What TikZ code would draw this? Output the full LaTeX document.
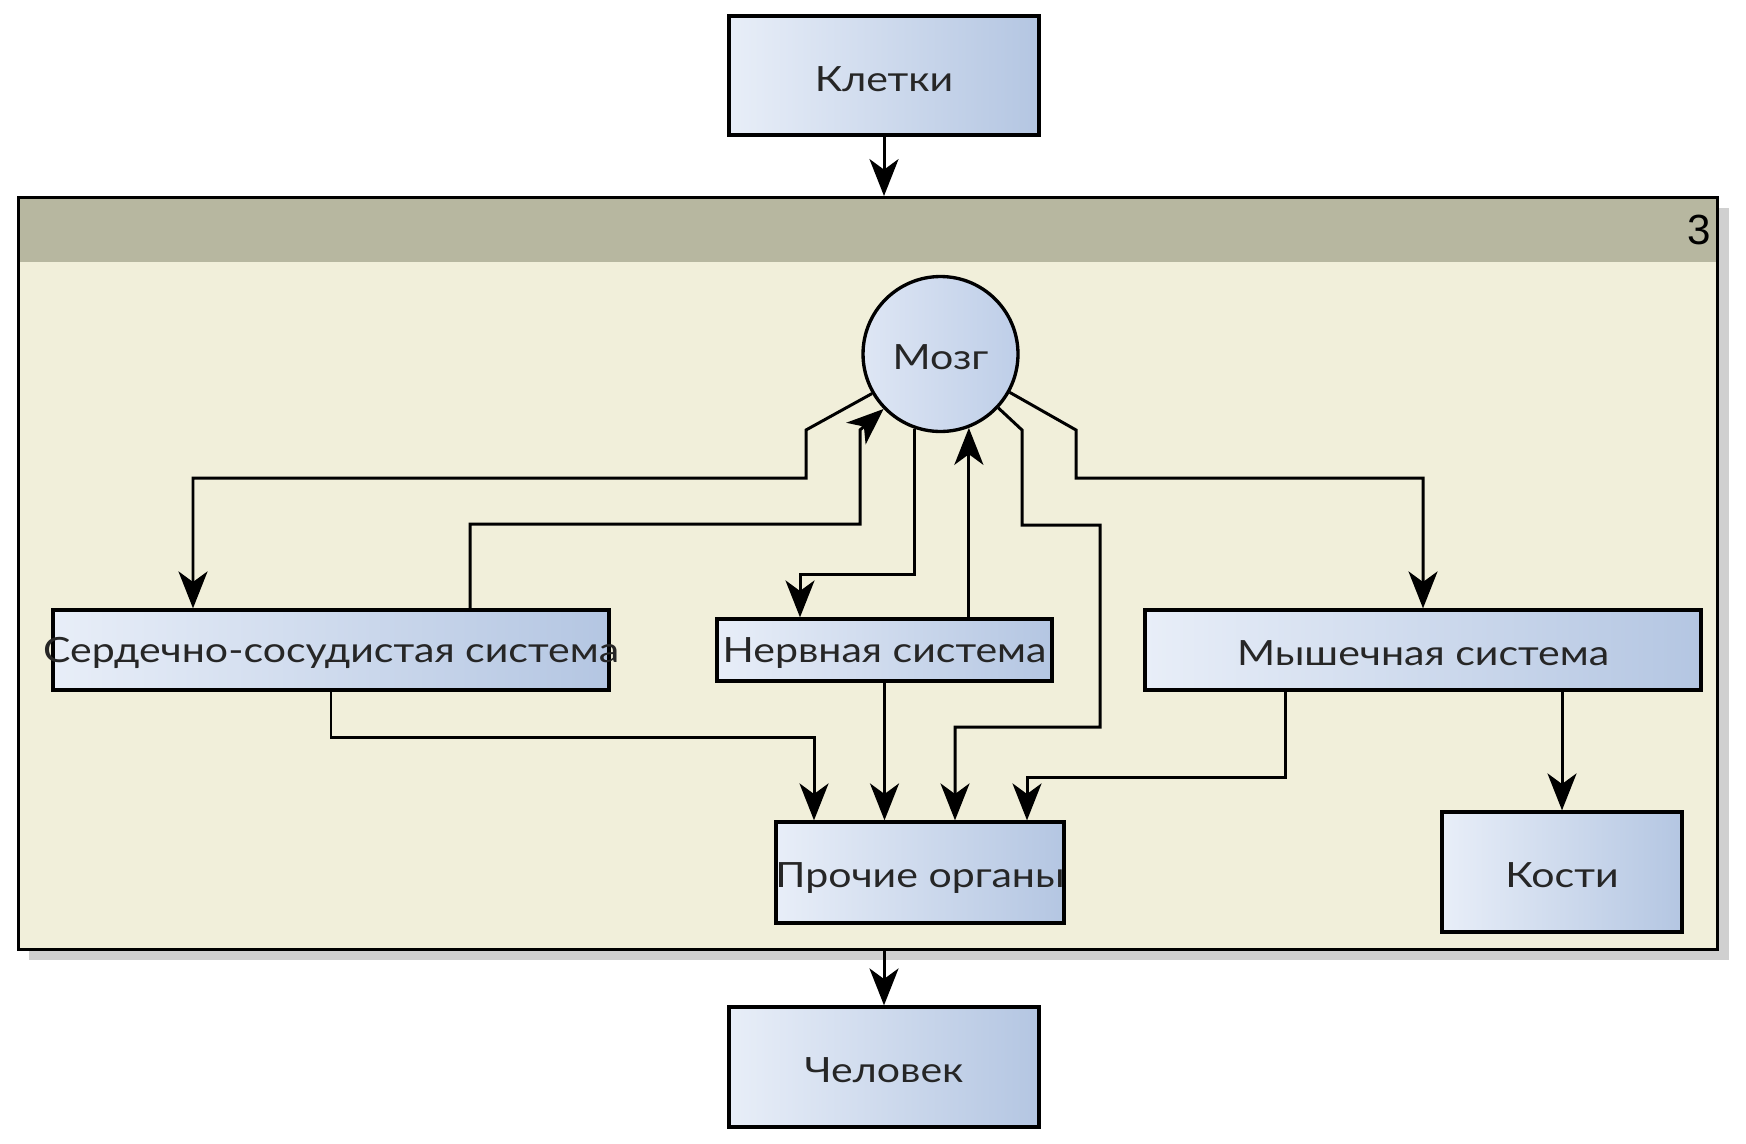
\documentclass[tikz,border=0pt]{standalone}
\usepackage{fontspec}
\setmainfont{Lato}[FakeStretch=1.18]
\newfontfamily\numfont{Liberation Sans}
\usetikzlibrary{arrows.meta,calc}
\definecolor{cream}{RGB}{241,239,218}
\definecolor{headergray}{RGB}{183,183,160}
\definecolor{shadowgray}{RGB}{208,208,208}
\definecolor{boxL}{RGB}{232,238,248}
\definecolor{boxR}{RGB}{180,198,226}
\definecolor{circL}{RGB}{222,230,244}
\definecolor{circR}{RGB}{190,206,232}
\begin{document}
\begin{tikzpicture}[x=0.02cm,y=-0.02cm,
  box/.style={draw=black, line width=1.9pt, left color=boxL, right color=boxR, inner sep=0pt, text=black!85},
  lbl/.style={font=\fontsize{19.8}{22}\selectfont, text=black!85, inner sep=0pt},
  lblt/.style={lbl, yshift=-1.8pt},
  conn/.style={line width=1.7pt, -{Stealth[length=21pt,width=16.5pt,inset=6pt]}}]
\useasboundingbox (0,0) rectangle (1746,1143);
% container
\fill[shadowgray] (29,208) rectangle (1729,960);
\fill[cream] (17,196) rectangle (1716,948);
\fill[headergray] (17,196) rectangle (1716,262);
\node[draw, line width=1.7pt, inner sep=0pt, minimum width=33.98cm, minimum height=15.04cm, anchor=north west] (cont) at (17,196) {};
\node[font=\numfont\fontsize{24}{24}\selectfont, anchor=east, inner sep=0pt] (num) at (1711,230) {3};
% boxes
\node[box, minimum width=6.2cm, minimum height=2.38cm] (kletki) at (884,75.5) {};
\node[lblt] (kletkit) at (kletki) {Клетки};
\node[box, minimum width=6.2cm, minimum height=2.4cm] (chelovek) at (884,1067) {};
\node[lblt] (chelovekt) at (chelovek) {Человек};
\node[box, minimum width=11.12cm, minimum height=1.6cm] (serd) at (331,650) {};
\node[lblt] (serdt) at (serd) {Сердечно-сосудистая система};
\node[box, minimum width=6.7cm, minimum height=1.24cm] (nerv) at (884.5,650) {};
\node[lblt] (nervt) at (nerv) {Нервная система};
\node[box, minimum width=11.12cm, minimum height=1.6cm] (mysh) at (1423,650) {};
\node[lblt] (mysht) at (mysh) {Мышечная система};
\node[box, minimum width=5.76cm, minimum height=2.02cm] (proch) at (920,872.5) {};
\node[lblt, yshift=-1.5pt] (procht) at (proch) {Прочие органы};
\node[box, minimum width=4.8cm, minimum height=2.4cm] (kosti) at (1562,872) {};
\node[lblt] (kostit) at (kosti) {Кости};
\node[circle, draw=black, line width=1.9pt, left color=circL, right color=circR, minimum size=3.1cm, inner sep=0pt] (mozg) at (940.5,354) {};
\node[lblt] (mozgt) at (mozg) {Мозг};
% connectors
\draw[conn] (kletki.south) -- (cont.north -| kletki.south);
\draw[conn] (cont.south -| chelovek.north) -- (chelovek.north);
\draw[conn] (mozg.210) -- (806,430) -- (806,478) -| ($(serd.north)+(-138,0)$);
\draw[conn] ($(serd.north)+(139,0)$) |- (860,524) -- (860,430) -- (mozg.224);
\draw[conn] (mozg.251) -- ++(0,146) -| ($(nerv.north)+(-84.5,0)$);
\draw[conn] (nerv.north -| mozg.291) -- (mozg.291);
\draw[conn] (mozg.317) -- (1022,430) |- (1100,525) -- (1100,727) -| ($(proch.north)+(35,0)$);
\draw[conn] (mozg.331) -- (1076,430) -- (1076,478) -| (mysh.north);
\draw[conn] (serd.south) -- ++(0,46) -| ($(proch.north)+(-106,0)$);
\draw[conn] (nerv.south) -- (nerv.south |- proch.north);
\draw[conn] ($(mysh.south)+(-138,0)$) -- ++(0,86) -| ($(proch.north)+(107,0)$);
\draw[conn] ($(mysh.south)+(139,0)$) -- (kosti.north);
\end{tikzpicture}
\end{document}
